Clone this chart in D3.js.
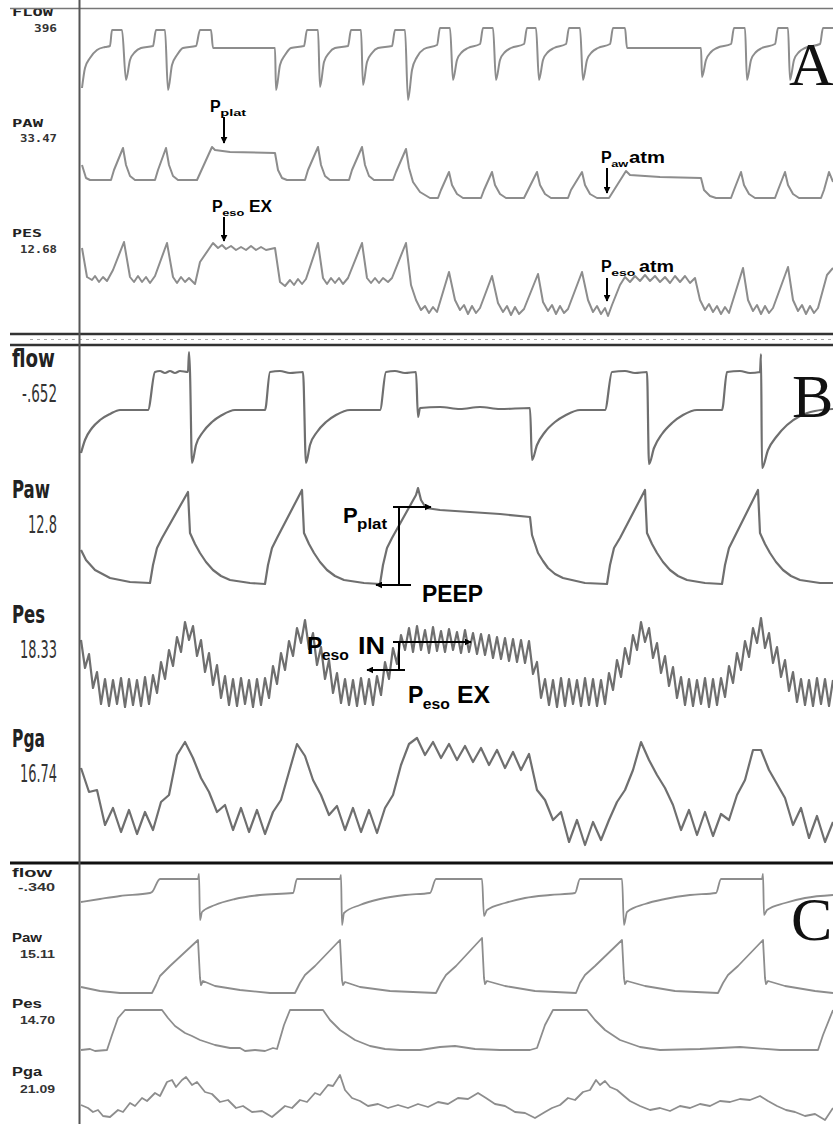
<!DOCTYPE html>
<html>
<head>
<meta charset="utf-8">
<script src="https://cdn.jsdelivr.net/npm/d3@7"></script>
<style>
  html, body { margin: 0; padding: 0; background: #fff; }
  svg { display: block; }
</style>
</head>
<body>
<svg id="chart"></svg>
<script>
// time = samples from the left edge of the trace window, value = units above the trace floor

// --- panel A ---
const aFlow = [[2,12],[5,32],[10,42],[17,50],[25,53],[30,54],[32,70],[42,70],[46,20],
  [50,40],[55,48],[61,52],[73,54],[76,70],[85,70],[88,10],
  [92,35],[97,45],[103,52],[116,54],[120,70],[131,70],[133,52],[195,52],[196,10],
  [200,35],[205,45],[211,52],[224,54],[227,70],[238,70],[240,13],
  [244,38],[249,47],[255,52],[268,54],[271,70],[281,70],[283,15],
  [287,38],[292,47],[298,52],[312,54],[315,70],[325,70],[328,0],
  [332,30],[337,43],[344,51],[357,55],[360,72],[370,72],[373,20],
  [377,40],[382,48],[388,52],[400,56],[403,72],[413,72],[416,20],
  [420,40],[425,48],[431,52],[444,56],[447,72],[456,72],[459,20],
  [463,40],[468,48],[474,52],[486,56],[489,72],[500,72],[503,20],
  [507,40],[512,48],[518,52],[530,56],[533,72],[545,72],[547,52],[621,52],[622,23],
  [626,40],[631,48],[637,52],[651,56],[654,72],[665,72],[667,20],
  [671,40],[676,48],[682,52],[695,56],[698,72],[708,72],[710,20],
  [714,40],[719,48],[725,52],[740,56],[743,72],[753,72]];

const aPaw = [[2,45],[6,32],[10,30],[31,30],[34,40],[43,62],[46,45],[50,34],[55,30],
  [75,30],[78,40],[86,62],[89,45],[93,34],[98,30],
  [117,30],[132,63],[135,60],[150,58],[195,57],[198,40],[202,32],[207,30],
  [225,30],[228,40],[238,63],[241,45],[245,34],[250,30],
  [269,30],[272,40],[282,63],[285,45],[289,34],[294,30],
  [313,30],[316,38],[326,61],[329,42],[333,28],[340,18],[350,12],
  [358,12],[361,20],[369,38],[372,25],[377,16],[383,12],
  [401,12],[404,20],[412,38],[415,25],[420,16],[426,12],
  [444,12],[448,20],[457,38],[460,25],[465,16],[471,12],
  [488,12],[491,20],[502,38],[505,25],[510,16],[517,12],
  [529,12],[546,39],[550,35],[580,33],[621,32],[624,20],[630,14],[636,12],
  [651,12],[654,20],[661,38],[664,25],[669,16],[675,12],
  [695,12],[698,20],[705,38],[708,25],[713,16],[719,12],
  [741,12],[744,20],[749,38],[753,28]];

const aPes = [[2,72],[7,43],[12,40],[15,44],[19,38],[23,43],[27,39],[33,50],[44,78],
  [50,43],[54,38],[58,44],[62,38],[66,43],[70,37],[75,44],[87,77],
  [93,43],[97,37],[101,43],[105,38],[109,42],[115,36],[120,58],[133,77],
  [138,72],[142,75],[146,71],[151,74],[156,70],[161,73],[166,70],[171,74],[176,70],
  [181,73],[186,70],[195,72],[200,38],[205,34],[210,40],[214,35],[218,41],[222,36],
  [226,41],[238,77],[243,42],[247,36],[251,42],[255,37],[259,42],[263,36],[268,42],
  [282,77],[287,42],[291,37],[295,42],[299,37],[303,42],[308,38],[312,42],
  [326,77],[331,35],[336,20],[341,10],[345,14],[349,7],[353,13],[357,8],
  [369,48],[375,20],[380,10],[384,15],[388,6],[392,14],[396,7],[400,12],
  [412,44],[418,17],[423,8],[427,14],[431,5],[435,13],[439,6],[444,11],
  [458,46],[463,18],[468,9],[472,15],[476,6],[480,14],[484,7],[488,11],
  [502,48],[508,20],[513,8],[517,14],[521,6],[525,12],[528,4],[532,15],
  [540,35],[545,43],[550,38],[555,44],[560,39],[565,45],[570,39],[575,44],[580,38],
  [585,43],[590,37],[595,44],[600,38],[605,44],[610,37],[615,42],
  [620,20],[625,10],[629,16],[633,8],[637,14],[641,6],[645,13],[649,7],
  [663,52],[668,20],[673,9],[677,15],[681,6],[685,14],[689,7],[693,12],
  [708,53],[713,20],[718,9],[722,15],[726,6],[730,14],[734,7],[738,12],
  [747,45],[753,52]];

// --- panel B ---
const bFlow = [[1,17],[5,30],[12,42],[20,50],[30,56],[40,60],[68,60],[75,98],[80,99],
  [85,97],[90,99],[95,97],[100,99],[108,98],[109,118],[110,98],[112,7],
  [116,25],[123,38],[132,48],[142,55],[155,60],[185,60],[190,98],[200,99],[210,97],
  [223,98],[226,7],[230,25],[237,38],[246,48],[256,55],[270,60],[300,60],
  [306,98],[315,99],[325,97],[336,98],[338,53],[340,62],[360,63],[380,61],
  [400,63],[420,61],[450,62],[452,10],[457,25],[465,38],[475,48],[486,55],
  [500,60],[525,60],[532,98],[545,99],[555,97],[567,98],[569,6],[574,22],
  [582,36],[592,47],[603,55],[617,60],[642,60],[647,98],[660,99],[670,97],
  [680,98],[681,116],[682,2],[688,20],[697,34],[707,45],[720,54],[735,59],[753,61]];

const bPaw = [[1,40],[6,30],[15,20],[30,12],[50,8],[70,7],[73,25],[77,42],[82,52],
  [108,98],[110,57],[115,46],[120,37],[126,28],[133,20],[141,14],[150,10],[170,7],
  [185,6],[188,25],[192,42],
  [197,52],[222,100],[224,57],[229,46],[234,37],[240,28],[247,20],[255,14],[264,10],
  [284,7],[300,6],[303,25],
  [307,42],[312,52],[336,95],[338,102],[341,90],[346,82],[360,80],[390,78],
  [420,76],[450,73],[452,55],[458,37],[463,29],[468,22],[475,16],[483,12],[505,7],
  [527,6],[530,25],
  [534,42],[540,52],[565,100],[567,57],[572,46],[577,37],[583,28],[590,20],[598,14],
  [607,10],[625,7],[642,6],
  [645,25],[649,42],[654,52],[678,100],[680,57],[685,46],[690,37],[696,28],[703,20],
  [711,14],[720,10],[740,7],
  [753,7]];

// Pes and Pga in B are stored as evenly spaced samples (peak / trough of each ripple)
const bPesStart = 1, bPesStep = 4;
const bPes = [70,42,56,22,38,6,31,4,30,6,
  32,3,31,5,30,4,33,6,35,17,
  48,31,60,44,73,58,88,70,84,54,
  70,38,57,25,45,12,34,5,31,4,
  32,6,30,3,31,5,32,12,44,26,
  57,40,69,54,82,67,90,61,77,45,
  63,31,50,17,37,7,31,5,30,4,
  32,6,31,5,34,15,48,31,62,46,
  75,60,82,58,84,60,80,57,83,59,
  79,58,81,60,78,57,80,58,77,56,
  76,55,75,52,73,51,72,49,71,48,
  70,47,69,36,48,12,31,5,30,3,
  32,4,31,6,30,4,32,5,31,4,
  30,6,37,20,50,33,62,46,75,60,
  88,68,82,52,67,37,54,24,43,12,
  33,5,31,4,30,6,32,3,31,5,
  32,13,44,27,57,40,69,53,82,67,
  92,62,77,47,63,33,50,19,38,8,
  31,5,30,4,32,6,31,4,30];

const bPgaStart = 1, bPgaStep = 8;
const bPga = [82,58,60,25,42,18,40,16,38,20,
  48,55,95,108,92,72,58,38,45,20,
  42,18,40,16,38,50,78,106,94,70,
  55,35,44,20,42,18,40,17,42,55,
  85,106,112,95,108,92,106,90,104,88,
  102,85,100,82,98,80,96,60,50,30,
  38,8,30,5,28,10,30,48,60,80,
  108,90,75,62,45,20,40,15,38,14,
  36,30,55,70,100,100,80,66,52,25,
  42,12,34,8,28];

// --- panel C ---
const cFlow = [[1,28],[20,31],[40,34],[70,37],[72,38],[80,51],[118,51],[119,56],[120,10],
  [122,18],[135,25],[155,31],[180,35],[213,37],[217,51],[260,51],[261,55],[262,5],
  [264,17],[280,25],[300,31],[325,35],[350,37],[356,51],[402,51],[404,14],[407,20],
  [425,27],[445,32],[470,35],[495,37],[500,51],[542,51],[544,5],[547,18],[565,26],
  [585,31],[610,35],[636,37],[641,51],[682,51],[683,56],[684,15],[687,20],[705,27],
  [725,32],[753,35]];

const cPaw = [[1,13],[20,9],[40,7],[72,7],[76,15],[80,24],[90,34],[118,60],[120,22],
  [121,15],[123,19],[135,14],[160,10],[190,7],[215,7],[220,17],[225,25],[235,34],
  [260,60],[262,20],[263,15],[265,18],[280,13],[310,9],[356,7],[361,17],[366,25],
  [376,34],[402,62],[404,22],[405,16],[407,19],[425,14],[455,9],[496,7],[500,17],
  [505,25],[515,34],[542,60],[544,22],[545,16],[547,19],[565,14],[595,9],[638,7],
  [643,17],[648,25],[658,34],[683,60],[685,22],[686,16],[688,19],[705,14],[735,9],
  [753,7]];

const cPes = [[1,10],[10,11],[15,9],[27,10],[32,25],[38,42],[45,50],[82,50],[88,42],
  [95,34],[105,27],[112,24],[120,20],[135,15],[150,12],[160,12],[165,9],[175,10],
  [185,9],[193,12],[197,11],[204,35],[210,50],[243,50],[250,40],[260,30],[275,20],
  [290,14],[305,11],[320,10],[340,10],[360,13],[375,14],[395,11],[420,10],[450,10],
  [457,12],[465,35],[473,50],[507,50],[515,40],[525,30],[540,20],[560,13],[580,10],
  [620,11],[660,13],[700,10],[738,10],[743,25],[753,50]];

const cPga = [[1,25],[8,22],[13,18],[18,20],[23,14],[30,13],[38,20],[43,18],[50,27],
  [55,24],[62,32],[67,29],[75,37],[80,34],[87,48],[92,50],[96,43],[102,50],[106,53],
  [112,45],[117,48],[125,38],[132,36],[140,28],[148,30],[156,22],[163,24],[172,18],
  [182,19],[192,13],[198,18],[205,24],[212,22],[220,30],[227,28],[235,37],[240,35],
  [248,45],[253,44],[260,55],[265,40],[272,32],[280,29],[288,24],[298,26],[308,22],
  [318,25],[328,22],[338,26],[348,23],[358,28],[368,26],[378,32],[388,31],[398,37],
  [406,32],[415,26],[425,24],[435,18],[445,17],[455,12],[465,18],[472,22],[480,25],
  [488,32],[495,30],[503,38],[510,40],[516,50],[520,45],[525,49],[530,43],[537,40],
  [544,34],[550,29],[560,24],[570,20],[580,22],[590,19],[600,24],[610,22],[620,26],
  [630,24],[640,29],[650,28],[660,31],[670,30],[680,34],[688,29],[697,24],[706,20],
  [715,18],[725,14],[735,16],[745,10],[753,22]];

// channel names and monitor readouts
const aNames = ['FLOW', 'PAW', 'PES'];
const aReadouts = ['396', '33.47', '12.68'];
const bNames = ['flow', 'Paw', 'Pes', 'Pga'];
const bReadouts = ['-.652', '12.8', '18.33', '16.74'];
const cNames = ['flow', 'Paw', 'Pes', 'Pga'];
const cReadouts = ['-.340', '15.11', '14.70', '21.09'];
const panelLetters = ['A', 'B', 'C'];

const sampled = (values, start, step) => values.map((v, i) => [start + i * step, v]);

const width = 833, height = 1124;
const svg = d3.select('#chart')
    .attr('width', width)
    .attr('height', height)
    .style('font-family', 'Liberation Sans, Arial, sans-serif');

svg.append('rect').attr('width', width).attr('height', height).attr('fill', '#fff');

const x = d3.scaleLinear().domain([0, 753]).range([80, 833]);

// flow recoveries are smooth, pressure traces keep their sharp corners
const smooth = d3.curveMonotoneX, sharp = d3.curveLinear;

// panel layout: floor of each trace, label baselines, text widths
const panels = [
    {
        traces: [aFlow, aPaw, aPes], floors: [100, 210, 320],
        curves: [smooth, sharp, sharp],
        names: aNames, readouts: aReadouts,
        nameY: [16, 127, 237], readY: [32, 142, 253],
        nameW: [41, 31, 30], readW: [23, 37, 37], readRight: 57,
        font: 'DejaVu Sans Mono', size: 10,
        color: '#8d8d8d', stroke: 2
    },
    {
        traces: [bFlow, bPaw, sampled(bPes, bPesStart, bPesStep), sampled(bPga, bPgaStart, bPgaStep)],
        floors: [470, 590, 710, 850],
        curves: [smooth, sharp, sharp, sharp],
        names: bNames, readouts: bReadouts,
        nameY: [367, 498, 623, 747], readY: [402, 533, 658, 782],
        nameW: [43, 38, 33, 33], readW: [35, 29, 37, 37], readRight: 57,
        font: 'Liberation Sans Narrow', size: 25,
        color: '#6f6f6f', stroke: 2.2
    },
    {
        traces: [cFlow, cPaw, cPes, cPga], floors: [930, 1000, 1060, 1130],
        curves: [smooth, sharp, sharp, sharp],
        names: cNames, readouts: cReadouts,
        nameY: [877, 942, 1008, 1076], readY: [891, 958, 1024, 1093],
        nameW: [40, 30, 30, 30], readW: [37, 35, 35, 35], readRight: 55,
        font: 'Liberation Sans', size: 12,
        color: '#8d8d8d', stroke: 1.8
    }
];

panels.forEach(p => {
    p.traces.forEach((data, i) => {
        const y = d3.scaleLinear().domain([0, 100]).range([p.floors[i], p.floors[i] - 100]);
        svg.append('path')
            .datum(data)
            .attr('fill', 'none')
            .attr('stroke', p.color)
            .attr('stroke-width', p.stroke)
            .attr('stroke-linejoin', 'round')
            .attr('d', d3.line().x(d => x(d[0])).y(d => y(d[1])).curve(p.curves[i]));
    });

    p.names.forEach((name, i) => {
        svg.append('text')
            .attr('x', 12).attr('y', p.nameY[i])
            .attr('font-family', p.font + ', DejaVu Sans Condensed, sans-serif')
            .attr('font-weight', 'bold')
            .attr('font-size', p.size)
            .attr('fill', '#222')
            .attr('textLength', p.nameW[i])
            .attr('lengthAdjust', 'spacingAndGlyphs')
            .text(name);
        svg.append('text')
            .attr('x', p.readRight - p.readW[i]).attr('y', p.readY[i])
            .attr('font-family', p.font + ', DejaVu Sans Condensed, sans-serif')
            .attr('font-weight', p.size > 20 ? 'normal' : 'bold')
            .attr('font-size', p.size > 20 ? p.size : 11)
            .attr('fill', '#333')
            .attr('textLength', p.readW[i])
            .attr('lengthAdjust', 'spacingAndGlyphs')
            .text(p.readouts[i]);
    });
});

// frame lines
const frame = svg.append('g').attr('fill', 'none');
frame.append('line').attr('x1', 10).attr('x2', width).attr('y1', 8.5).attr('y2', 8.5)
    .attr('stroke', '#777').attr('stroke-width', 1.5);
frame.append('line').attr('x1', 10).attr('x2', width).attr('y1', 334).attr('y2', 334)
    .attr('stroke', '#333').attr('stroke-width', 2.5);
frame.append('line').attr('x1', 30).attr('x2', width).attr('y1', 339.5).attr('y2', 339.5)
    .attr('stroke', '#aaa').attr('stroke-width', 1).attr('stroke-dasharray', '3,4');
frame.append('line').attr('x1', 10).attr('x2', width).attr('y1', 345).attr('y2', 345)
    .attr('stroke', '#333').attr('stroke-width', 2.5);
frame.append('line').attr('x1', 10).attr('x2', width).attr('y1', 863).attr('y2', 863)
    .attr('stroke', '#111').attr('stroke-width', 3);
frame.append('line').attr('x1', 79.5).attr('x2', 79.5).attr('y1', 0).attr('y2', height)
    .attr('stroke', '#555').attr('stroke-width', 2);

// panel letters
const letterPos = [[789, 85], [792, 417], [791, 940]];
panelLetters.forEach((l, i) => {
    svg.append('text')
        .attr('x', letterPos[i][0]).attr('y', letterPos[i][1])
        .attr('font-family', 'Liberation Serif, Times New Roman, serif')
        .attr('font-size', 62)
        .attr('fill', '#111')
        .text(l);
});

// annotations
const defs = svg.append('defs');
defs.append('marker')
    .attr('id', 'arrow')
    .attr('viewBox', '0 0 10 10')
    .attr('refX', 9).attr('refY', 5)
    .attr('markerWidth', 7).attr('markerHeight', 7)
    .attr('markerUnits', 'userSpaceOnUse')
    .attr('orient', 'auto')
    .append('path').attr('d', 'M0,0L10,5L0,10Z').attr('fill', '#000');

const ann = svg.append('g').attr('fill', '#000').attr('font-weight', 'bold')
    .attr('font-family', 'Liberation Sans, Arial, sans-serif');

const label = (xp, yp, main, sub, rest, size, subSize, subW, restX, restW) => {
    ann.append('text').attr('x', xp).attr('y', yp).attr('font-size', size).text(main);
    ann.append('text').attr('x', xp + size * 0.64).attr('y', yp + subSize * 0.45)
        .attr('font-size', subSize)
        .attr('textLength', subW).attr('lengthAdjust', 'spacingAndGlyphs')
        .text(sub);
    if (rest) {
        ann.append('text').attr('x', restX).attr('y', yp).attr('font-size', size)
            .attr('textLength', restW).attr('lengthAdjust', 'spacingAndGlyphs')
            .text(rest);
    }
};

const arrow = (x1, y1, x2, y2, head = true) => {
    const l = ann.append('line')
        .attr('x1', x1).attr('y1', y1).attr('x2', x2).attr('y2', y2)
        .attr('stroke', '#000').attr('stroke-width', 2);
    if (head) l.attr('marker-end', 'url(#arrow)');
};

// panel A
label(210, 112, 'P', 'plat', null, 16, 9, 26);
arrow(224, 117, 224, 143);
label(212, 212, 'P', 'eso', 'EX', 16, 9, 22, 249, 23);
arrow(224, 217, 224, 241);
label(601, 163, 'P', 'aw', 'atm', 16, 9, 17, 629, 36);
arrow(607, 168, 607, 193);
label(601, 272, 'P', 'eso', 'atm', 16, 9, 24, 639, 35);
arrow(607, 278, 607, 301);

// panel B
label(343, 523, 'P', 'plat', null, 22, 14, 30);
arrow(399, 507, 399, 585, false);
arrow(393, 507, 431, 507);
arrow(411, 585, 376, 585);
ann.append('text').attr('x', 422).attr('y', 602).attr('font-size', 23)
    .attr('textLength', 61).attr('lengthAdjust', 'spacingAndGlyphs').text('PEEP');

label(307, 654, 'P', 'eso', 'IN', 23, 14, 27, 358, 27);
arrow(399, 642, 399, 670, false);
arrow(393, 642, 471, 642);
arrow(405, 670, 367, 670);
label(408, 703, 'P', 'eso', 'EX', 23, 14, 27, 457, 33);
</script>
</body>
</html>
